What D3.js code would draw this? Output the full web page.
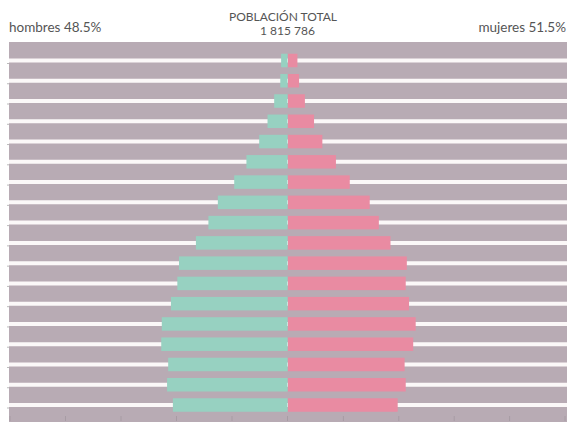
<!DOCTYPE html>
<head>
    <style>
        body { margin: 0; background: #fff; }
        text { font-family: Lato, "Open Sans", sans-serif; fill: #555; }
    </style>
</head>
<body>
    <script src="https://d3js.org/d3.v7.min.js"></script>
    <script>
        const w = 567, h = 422;

        // age groups, youngest first
        const ages = ['0-4', '5-9', '10-14', '15-19', '20-24', '25-29', '30-34', '35-39', '40-44',
                      '45-49', '50-54', '55-59', '60-64', '65-69', '70-74', '75-79', '80-84', '85+'];
        // share of total population, %
        const hombres = [4.13, 4.34, 4.30, 4.55, 4.53, 4.20, 3.97, 3.91, 3.30,
                         2.85, 2.51, 1.92, 1.48, 1.02, 0.72, 0.48, 0.26, 0.23];
        const mujeres = [3.96, 4.25, 4.21, 4.52, 4.61, 4.37, 4.25, 4.29, 3.70,
                         3.28, 2.95, 2.23, 1.73, 1.24, 0.94, 0.61, 0.40, 0.34];
        const xTicks = [0, 2, 4, 6, 8, 10];
        const title = 'POBLACIÓN TOTAL', total = '1 815 786';
        const leftLabel = 'hombres 48.5%', rightLabel = 'mujeres 51.5%';

        const cx = 287.5;
        const xm = d3.scaleLinear().domain([0, 10]).range([cx, 10]);
        const xf = d3.scaleLinear().domain([0, 10]).range([cx + 0.5, 565]);
        const y = d3.scalePoint().domain(ages.slice().reverse()).range([60.5, 405]);
        const barH = 13.5;

        const svg = d3.select('body')
                      .append('svg')
                      .attr('width', w)
                      .attr('height', h);

        // grey background with white row lines
        svg.append('rect')
           .attr('x', 9).attr('y', 42)
           .attr('width', w - 9).attr('height', h - 42)
           .attr('fill', '#b8abb4');

        svg.selectAll('line.row')
           .data(ages)
           .enter()
           .append('line')
           .attr('class', 'row')
           .attr('x1', 9).attr('x2', w)
           .attr('y1', d => y(d)).attr('y2', d => y(d))
           .attr('stroke', '#fbf8f8')
           .attr('stroke-width', 4);

        // tiny y ticks on left edge
        svg.selectAll('line.ytick')
           .data(ages)
           .enter()
           .append('line')
           .attr('class', 'ytick')
           .attr('x1', 7).attr('x2', 9)
           .attr('y1', d => y(d) + 3).attr('y2', d => y(d) + 3)
           .attr('stroke', '#bbb');

        // bars
        svg.selectAll('rect.h')
           .data(hombres)
           .enter()
           .append('rect')
           .attr('class', 'h')
           .attr('x', d => xm(d))
           .attr('y', (d, i) => y(ages[i]) - barH / 2)
           .attr('width', d => xm(0) - xm(d))
           .attr('height', barH)
           .attr('fill', '#97d1c1');

        svg.selectAll('rect.m')
           .data(mujeres)
           .enter()
           .append('rect')
           .attr('class', 'm')
           .attr('x', xf(0))
           .attr('y', (d, i) => y(ages[i]) - barH / 2)
           .attr('width', d => xf(d) - xf(0))
           .attr('height', barH)
           .attr('fill', '#e98ba2');

        // bottom ticks
        const ticks = xTicks.map(xm).concat(xTicks.slice(1).map(xf));
        svg.selectAll('line.xtick')
           .data(ticks)
           .enter()
           .append('line')
           .attr('class', 'xtick')
           .attr('x1', d => d).attr('x2', d => d)
           .attr('y1', 416).attr('y2', 421)
           .attr('stroke', '#a79ca4');

        // labels
        svg.append('text')
           .attr('x', 9).attr('y', 32)
           .attr('font-size', 13.5)
           .text(leftLabel);
        svg.append('text')
           .attr('x', 566).attr('y', 32)
           .attr('text-anchor', 'end')
           .attr('font-size', 13.5)
           .text(rightLabel);
        svg.append('text')
           .attr('x', 283).attr('y', 21)
           .attr('text-anchor', 'middle')
           .attr('font-size', 12)
           .text(title);
        svg.append('text')
           .attr('x', cx).attr('y', 35)
           .attr('text-anchor', 'middle')
           .attr('font-size', 12)
           .text(total);
    </script>
</body>
